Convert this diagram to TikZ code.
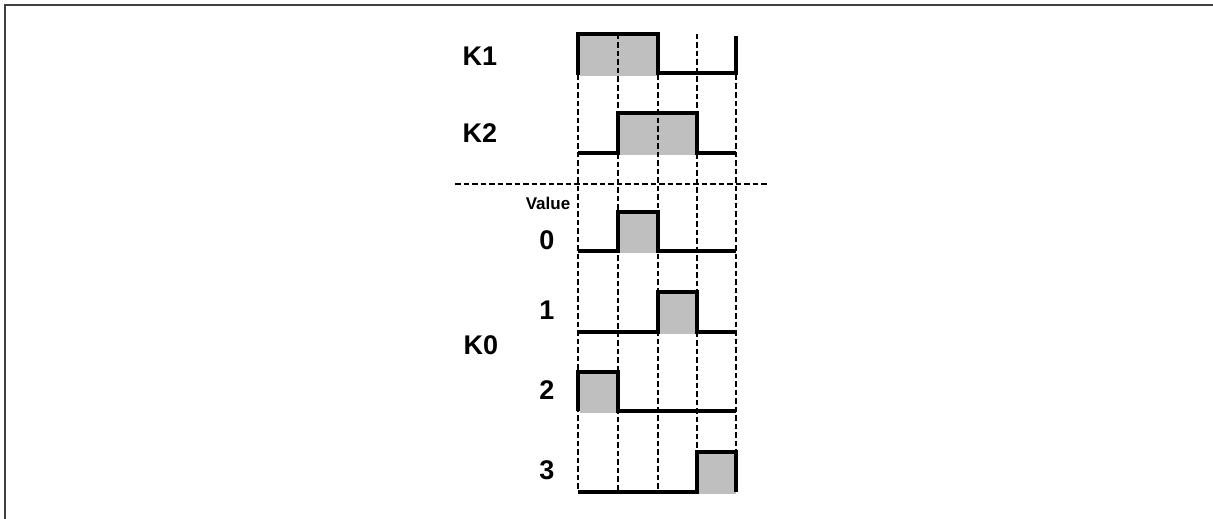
\documentclass[tikz,border=0pt]{standalone}
\usepackage{fontspec}
\setmainfont{Liberation Sans}
\begin{document}
\begin{tikzpicture}[x=1pt,y=-1pt,
  frameline/.style={draw=black!75,line width=1.8pt},
  grid/.style={draw=black,line width=2.6pt,dash pattern=on 5.5pt off 3pt},
  wave/.style={draw=black,line width=4.6pt,line join=miter,line cap=butt},
  pulse/.style={fill=black!25},
  biglabel/.style={font=\bfseries\fontsize{27}{31}\selectfont,inner sep=0pt},
  smalllabel/.style={font=\bfseries\fontsize{17}{20}\selectfont,inner sep=0pt}]
\useasboundingbox (0,0) rectangle (1213,519);
\draw[frameline] (5,519) -- (5,5) -- (1213,5);
% fills
\fill[pulse] (580,36) rectangle (658,76);
\fill[pulse] (620,115) rectangle (697,155);
\fill[pulse] (620,214) rectangle (658,253);
\fill[pulse] (660,294) rectangle (697,334);
\fill[pulse] (580,374) rectangle (618,413);
\fill[pulse] (699,454) rectangle (736,494);
% dashed grid
\draw[grid] (578,75) -- (578,490);
\draw[grid] (618,34) -- (618,490);
\draw[grid] (658,75) -- (658,490);
\draw[grid] (697,34) -- (697,490);
\draw[grid] (736,75) -- (736,490);
\draw[grid] (455,184) -- (768,184);
% waves
\draw[wave] (578,75) -- (578,34) -- (658,34) -- (658,73) -- (736,73) -- (736,36);
\draw[wave] (578,153) -- (618,153) -- (618,113) -- (697,113) -- (697,153) -- (736,153);
\draw[wave] (578,251) -- (618,251) -- (618,212) -- (658,212) -- (658,251) -- (736,251);
\draw[wave] (578,332) -- (658,332) -- (658,292) -- (697,292) -- (697,332) -- (736,332);
\draw[wave] (578,411) -- (578,372) -- (618,372) -- (618,411) -- (736,411);
\draw[wave] (578,492) -- (697,492) -- (697,452) -- (736,452) -- (736,492);
% labels
\node[biglabel] (k1) at (480,56) {K1};
\node[biglabel] (k2) at (480,133) {K2};
\node[biglabel] (k0) at (481,345) {K0};
\node[smalllabel] (val) at (548,203) {Value};
\node[biglabel] (v0) at (547,240) {0};
\node[biglabel] (v1) at (547,310) {1};
\node[biglabel] (v2) at (547,390) {2};
\node[biglabel] (v3) at (547,470) {3};
\end{tikzpicture}
\end{document}
